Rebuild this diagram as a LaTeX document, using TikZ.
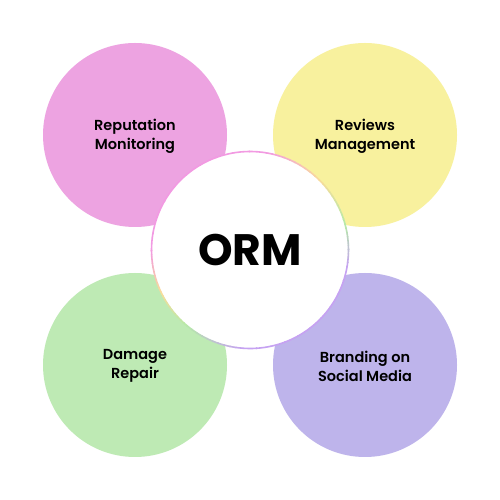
\documentclass[tikz,border=0pt]{standalone}
\usepackage{fontspec}
\usetikzlibrary{calc}
\setmainfont{Poppins}
\newfontfamily\labfont{Poppins SemiBold}
\newfontfamily\titfont{Poppins Bold}
\definecolor{cpink}{HTML}{EDA3E1}
\definecolor{cyellow}{HTML}{F8F19E}
\definecolor{cgreen}{HTML}{BEEAB4}
\definecolor{cpurple}{HTML}{BEB4EB}
\definecolor{rpink}{HTML}{F29AE2}
\definecolor{ryellow}{HTML}{F9DC9A}
\definecolor{rgreen}{HTML}{B6EAA8}
\definecolor{rpurple}{HTML}{C6A2F2}
\begin{document}
\begin{tikzpicture}[x=1pt,y=1pt,
  petal/.style={circle,minimum size=184pt,inner sep=0pt},
  lab/.style={font=\labfont\fontsize{14.5}{19}\selectfont,align=center,text=black}]
\useasboundingbox[fill=white] (0,0) rectangle (500,500);
\node[petal,fill=cpink] (rm) at (135,365) {};
\node[petal,fill=cyellow] (rv) at (365,365) {};
\node[petal,fill=cgreen] (dr) at (135,135) {};
\node[petal,fill=cpurple] (bs) at (365,135) {};
\node[lab] at ($(rm)+(0,-1)$) {Reputation\\Monitoring};
\node[lab] at ($(rv)+(0,-1)$) {Reviews\\Management};
\node[lab] at ($(dr)+(0,-1)$) {Damage\\Repair};
\node[lab] at ($(bs)+(0,-1)$) {Branding on\\Social Media};
\node[circle,fill=white,minimum size=197pt,inner sep=0pt] (c) at (250,250) {};
\foreach \aa/\ca/\ab/\cb in {-10/rpurple/15/rgreen,15/rgreen/45/ryellow,45/ryellow/80/rpink,80/rpink/180/rpink,180/rpink/205/ryellow,205/ryellow/230/rgreen,230/rgreen/265/rpurple,265/rpurple/350/rpurple}{
  \foreach \i in {0,...,9}{
    \pgfmathsetmacro{\s}{\aa+(\ab-\aa)*\i/10}
    \pgfmathsetmacro{\e}{\aa+(\ab-\aa)*(\i+1)/10+0.5}
    \pgfmathtruncatemacro{\p}{100-100*(\i+0.5)/10}
    \draw[line width=1.6pt,color=\ca!\p!\cb] ($(c.center)+(\s:98.5)$) arc[start angle=\s,end angle=\e,radius=98.5];
  }
}
\node[font=\titfont\fontsize{44}{44}\selectfont] (t) at (c) {ORM};
\end{tikzpicture}
\end{document}
